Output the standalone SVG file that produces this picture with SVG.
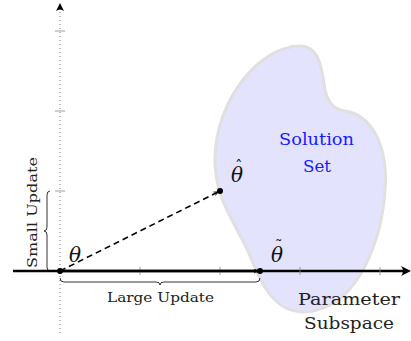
<svg xmlns="http://www.w3.org/2000/svg" width="411" height="341" viewBox="0 0 411 341">
<defs>
<marker id="ah" viewBox="0 0 10 10" refX="9" refY="5" markerWidth="5" markerHeight="5" markerUnits="userSpaceOnUse" orient="auto">
<path d="M1,1 L9,5 L1,9" fill="none" stroke="#000" stroke-width="1.6"/>
</marker>
</defs>
<style>
.serif{font-family:"DejaVu Serif","Liberation Serif",serif;}
.math{font-family:"DejaVu Serif","Liberation Serif",serif;font-style:italic;font-size:20px;fill:#111;}
.acc{font-style:normal;font-size:15px;}
.tick{stroke:#888;stroke-width:0.8;}
.small{font-size:12.5px;fill:#222;}
.big{font-size:17px;fill:#222;}
.blue{font-size:16px;fill:#1a1aff;}
</style>
<g id="solution-set">
<path d="M300,46 C320,46 322,70 325,90 C330,110 340,110 350,112 C375,120 388,150 385,190 C382,240 360,290 330,305 C310,315 290,315 275,300 C260,285 255,265 245,245 C230,215 215,195 215,160 C215,100 260,46 300,46 Z" fill="#e3e3fd" stroke="#e0e0e0" stroke-width="3"/>
<text class="serif blue" x="279" y="145" textLength="75" lengthAdjust="spacingAndGlyphs">Solution</text>
<text class="serif blue" x="303" y="172" textLength="28" lengthAdjust="spacingAndGlyphs">Set</text>
</g>
<g id="axes">
<line x1="60" y1="333" x2="60" y2="6" stroke="#777" stroke-width="1" stroke-dasharray="1,3"/>
<path d="M56,11 L60,3 L64,11 Q60,8 56,11 Z" fill="#000"/>
<line class="tick" x1="55" y1="31" x2="65" y2="31"/>
<line class="tick" x1="55" y1="111" x2="65" y2="111"/>
<line class="tick" x1="55" y1="191" x2="65" y2="191"/>
<line x1="13" y1="271" x2="406" y2="271" stroke="#000" stroke-width="2.4"/>
<path d="M401,266 L411,271 L401,276 Q405,271 401,266 Z" fill="#000"/>
<line class="tick" x1="140" y1="267" x2="140" y2="275"/>
<line class="tick" x1="220" y1="267" x2="220" y2="275"/>
<line class="tick" x1="300" y1="267" x2="300" y2="275"/>
<line class="tick" x1="380" y1="267" x2="380" y2="275"/>
<text class="serif big" x="298" y="305" textLength="102" lengthAdjust="spacingAndGlyphs">Parameter</text>
<text class="serif big" x="304" y="329" textLength="90" lengthAdjust="spacingAndGlyphs">Subspace</text>
</g>
<g id="connectors">
<line x1="60" y1="271" x2="218" y2="192" stroke="#000" stroke-width="1.6" stroke-dasharray="6,4" marker-end="url(#ah)"/>
<line x1="60" y1="271" x2="258" y2="271" stroke="#000" stroke-width="2.4" marker-end="url(#ah)"/>
</g>
<g id="theta">
<circle cx="60" cy="271" r="3" fill="#000"/>
<text class="math" x="69" y="262">θ</text>
</g>
<g id="theta-hat">
<circle cx="220" cy="191" r="3" fill="#000"/>
<text class="math" x="231" y="182">θ<tspan class="acc" x="235" y="171">ˆ</tspan></text>
</g>
<g id="theta-tilde">
<circle cx="260" cy="271" r="3" fill="#000"/>
<text class="math" x="271" y="262">θ<tspan class="acc" x="275" y="251">˜</tspan></text>
</g>
<g id="small-update">
<path d="M50,191 Q47,191 47,195 L47,227 Q47,231 44,231 Q47,231 47,235 L47,267 Q47,271 50,271" fill="none" stroke="#000" stroke-width="0.8"/>
<text class="serif small" transform="translate(37,157) rotate(-90)" x="-111" y="0" textLength="111" lengthAdjust="spacingAndGlyphs">Small Update</text>
</g>
<g id="large-update">
<path d="M60,278 Q60,282 64,282 L156,282 Q160,282 160,285 Q160,282 164,282 L256,282 Q260,282 260,278" fill="none" stroke="#000" stroke-width="0.8"/>
<text class="serif small" x="107" y="302" textLength="107" lengthAdjust="spacingAndGlyphs">Large Update</text>
</g>
</svg>
